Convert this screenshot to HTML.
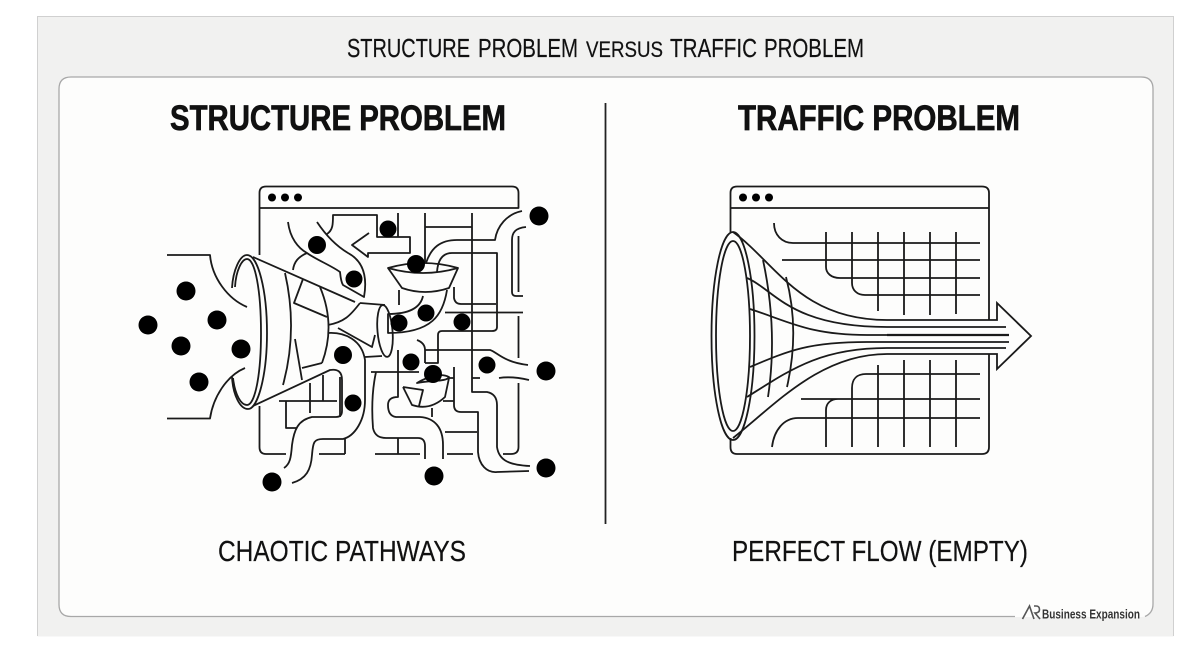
<!DOCTYPE html>
<html><head><meta charset="utf-8"><style>
html,body{margin:0;padding:0;background:#fff}
svg{display:block}
text{font-family:"Liberation Sans",sans-serif;fill:#111}
</style></head><body>
<svg width="1200" height="657" viewBox="0 0 1200 657" xmlns="http://www.w3.org/2000/svg">
<rect x="37.5" y="16.5" width="1136" height="620" fill="#f1f1f0"/>
<path d="M37.5 636V16.5H1173.5V636" fill="none" stroke="#d0d0d0"/>
<rect x="59" y="77" width="1094" height="540" rx="12" fill="#fdfdfc"/>
<path d="M1015 616.500H71Q59 616.500 59 604.500V89Q59 77 71 77H1141Q1153 77 1153 89V604Q1153 613 1145 616.500" fill="none" stroke="#a8a8a8" stroke-width="1.300"/>

<g stroke="#111" stroke-width="0.200">
<text x="347" y="57" font-size="25.500" textLength="123" lengthAdjust="spacingAndGlyphs">STRUCTURE</text>
<text x="478" y="57" font-size="25.500" textLength="100" lengthAdjust="spacingAndGlyphs">PROBLEM</text>
<text x="586" y="57" font-size="22" textLength="77" lengthAdjust="spacingAndGlyphs">VERSUS</text>
<text x="670" y="57" font-size="25.500" textLength="87" lengthAdjust="spacingAndGlyphs">TRAFFIC</text>
<text x="764" y="57" font-size="25.500" textLength="100" lengthAdjust="spacingAndGlyphs">PROBLEM</text>
<text x="218" y="561" font-size="29" textLength="248" lengthAdjust="spacingAndGlyphs">CHAOTIC PATHWAYS</text>
<text x="732" y="561" font-size="29" textLength="296" lengthAdjust="spacingAndGlyphs">PERFECT FLOW (EMPTY)</text>
</g>
<g stroke="#111" stroke-width="0.700">
<text x="170" y="130" font-size="35.500" font-weight="700" textLength="336" lengthAdjust="spacingAndGlyphs">STRUCTURE PROBLEM</text>
<text x="738" y="130" font-size="35.500" font-weight="700" textLength="282" lengthAdjust="spacingAndGlyphs">TRAFFIC PROBLEM</text>
</g>

<line x1="605.500" y1="103" x2="605.500" y2="524" stroke="#222" stroke-width="1.800"/>

<!-- logo -->
<path d="M1022.500 619L1029.500 606L1034 619M1034 606H1036Q1039.500 606 1039.500 609.500Q1039.500 613 1035 613L1040 619" fill="none" stroke="#555" stroke-width="1.600"/>
<text x="1042" y="618.500" font-size="13" font-weight="700" textLength="98" lengthAdjust="spacingAndGlyphs" style="fill:#333">Business Expansion</text>

<!-- LEFT -->
<g fill="none" stroke="#1a1a1a" stroke-width="1.800" stroke-linecap="butt" stroke-linejoin="round">
<path d="M259.500 255V193Q259.500 186.500 266 186.500H512Q518.500 186.500 518.500 193V208H259.500"/>
<path d="M259.500 406V447Q259.500 454 266 454H286M319 454H345M375 454H420M447 454H473M518.500 236V292M518.500 316V358M518.500 383V447Q518.500 454 511 454H503"/>
<path d="M288 222C290 238 298 248 307 253C315 259 332 266 340 272Q341 282 343 285L364 297C367 280 365 262 348 253C338 247 327 237 317 222M293 270C294 262 298 257 307 253"/>
<path d="M327 234C333 230 333 224 333 215H377V237H410V253H368V257L352 245L369 233"/>
<path d="M167 255H210C212 278 228 299 247 307M167 418.500H210C213 398 226 376 245 368"/>
<path d="M232 288C233 270 240 255 247 255C258 255 267 290 267 333C267 375 258 409 248 409C240 409 233 395 232 377"/>
<path d="M235 287C236 270 242 259 247 259C255 259 261 290 261 333C261 375 255 405 247 405C241 405 235 395 233 378"/>
<path d="M253 257L355 302M360 303L385 305M253 406L330 370Q342 368 342 380V411Q342 417 336 417H312C298 420 294 430 292 445C291 458 290 464 284 468"/>
<path d="M285 273Q298 330 283 385M320 287Q336 325 322 363M303 279L294 303L327 317M295 339L302 380M302 368L322 363M328 325C344 322 350 316 360 303M338 328L372 347L375 335"/>
<path d="M279 401H337M310 383V413M323 375V401M286 401V428H297"/>
<path d="M292 483C306 479 311 470 312 455C313 442 314 439 323 439H343C355 436 365 420 365 400V360C362 340 345 332 328 333M365 357L382 356M340 377V417M345 438V454"/>
<ellipse cx="385" cy="331" rx="7.500" ry="26" transform="rotate(-5 385 331)"/>
<path d="M388 268Q423 258 458 268Q423 278 388 268ZM388 268L402 288Q425 296 449 288L458 268"/>
<path d="M399 290V305M447 290C443 315 432 333 388 333V314C405 314 420 310 423 296"/>
<path d="M426 263C431 248 440 240 457 240H495C497 226 507 214 522 211M437 272C438 258 444 253 452 253H497V327Q497 331 492 331H442Q438 331 438 335V363H425M425 213V263M472 213V392H487Q497 394 497 405V447C499 461 510 465 530 466M425 227H472M398 213V237M454 287V298Q455 304 461 304H496M445 312.500H523"/>
<path d="M526 227C515 228 512 233 512 240V292Q512 296 516 296H523M417 340Q425 343 425 350V363M425 350H490C497 352 503 362 528 365M499 378Q512 376 529 380M472 378H480M454 367V405Q454 412 461 412H478V452C479 465 487 473 497 472L529 471M445 432H477M371 372H419M376 372C371 395 372 415 373 428Q375 438 386 438H418Q425 438 425 446V459M398 350V397Q388 397 388 405Q388 416 396 417H420C435 418 443 428 443 445V459M398 438V454"/>
<path d="M417 383C430 380 447 382 449 377C440 372 425 378 417 383ZM403 387L412 405Q430 411 445 397L449 378M403 387L423 390L419 406M443 401H454M432 408V417M449 378H454"/>
</g>
<g fill="#000">
<circle cx="186" cy="291" r="9.500"/><circle cx="148" cy="325" r="9.500"/><circle cx="217" cy="320" r="9.500"/><circle cx="181" cy="346" r="9.500"/><circle cx="241" cy="349" r="9.500"/><circle cx="199" cy="382" r="9.500"/>
<circle cx="317" cy="245" r="9"/><circle cx="272" cy="482" r="9.500"/><circle cx="343" cy="355" r="9"/><circle cx="388" cy="229" r="8.500"/><circle cx="354" cy="279" r="8.500"/><circle cx="416" cy="264" r="9"/><circle cx="426" cy="313" r="8.500"/><circle cx="399" cy="323" r="8.500"/><circle cx="462" cy="322" r="8.500"/><circle cx="411" cy="362" r="8.500"/><circle cx="433" cy="374" r="9"/><circle cx="487" cy="365" r="8.500"/><circle cx="353" cy="403" r="8.500"/>
<circle cx="539" cy="216" r="9.500"/><circle cx="546" cy="371" r="9.500"/><circle cx="546" cy="468" r="9.500"/><circle cx="434" cy="476" r="9.500"/>
<circle cx="272" cy="197.500" r="4"/><circle cx="285" cy="197.500" r="4"/><circle cx="298" cy="197.500" r="4"/>
<circle cx="743" cy="197.500" r="4"/><circle cx="756" cy="197.500" r="4"/><circle cx="769" cy="197.500" r="4"/>
</g>

<!-- RIGHT -->
<g fill="none" stroke="#1a1a1a" stroke-width="1.800">
<path d="M730.500 232V193Q730.500 186.500 737 186.500H982Q989 186.500 989 193V320M730.500 208H989M989 354V447Q989 454 982 454H737Q730.500 454 730.500 447V438"/>
<path d="M774 223C774 235 782 243 793 243H980M782 260H980M826 232V267C826 273 831 278 840 278H980M852 232V283C852 290 857 295 865 295H980M878 232V311M904 232V315M930 232V315M956 232V314"/>
<path d="M878 365V447M904 360V447M930 360V447M956 360V447M852 447V388C852 379 857 374 866 374H980M801 399H980M826 447V410C826 403 831 399 838 399M772 447C774 430 784 418 798 418H980"/>
<path d="M733 232C775 262 800 320 887 320H997V303L1031 336L997 369V354H887C820 354 775 405 733 438"/>
<path d="M747 278C775 290 790 327 887 327H1006M750 309C790 322 810 335 867 335H1009M750 367C790 350 810 342 867 342H1009M747 397C790 370 820 348 887 348H1006"/>
<path d="M763 260Q778 330 768 397M786 277Q800 330 787 387"/>
<ellipse cx="733" cy="336" rx="21.500" ry="104"/>
<ellipse cx="733" cy="336" rx="17" ry="95" fill="#fdfdfc"/>
</g>
<path d="M887 335H1009" stroke="#1a1a1a" stroke-width="2.200"/>
</svg>
</body></html>
